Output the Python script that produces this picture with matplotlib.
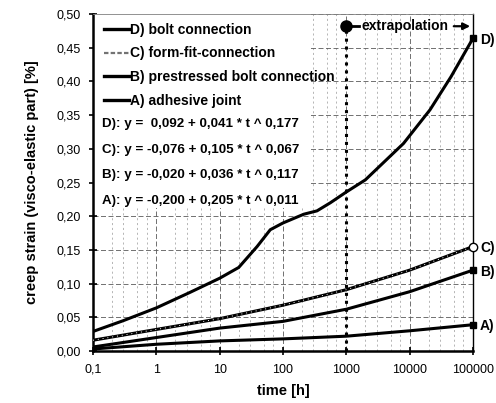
import matplotlib.pyplot as plt
import numpy as np
from matplotlib.lines import Line2D
from matplotlib.ticker import FixedLocator, NullFormatter

plt.rcParams['font.family'] = ['Liberation Sans', 'DejaVu Sans']

# time [h] and creep strain [%]
tD = [0.1, 0.3, 1, 3.4, 10, 20, 39, 63, 100, 213, 345, 560, 1000, 2000, 8000, 21000, 45000, 100000]
yD = [0.029, 0.045, 0.064, 0.087, 0.108, 0.124, 0.155, 0.180, 0.190, 0.203, 0.208, 0.220, 0.236, 0.254, 0.308, 0.358, 0.407, 0.464]

tC = [0.1, 1, 10, 100, 1000, 10000, 100000]
yC = [0.016, 0.032, 0.048, 0.068, 0.091, 0.120, 0.155]

tB = [0.1, 1, 10, 100, 1000, 10000, 100000]
yB = [0.006, 0.020, 0.034, 0.044, 0.062, 0.088, 0.120]

tA = [0.1, 1, 10, 100, 1000, 10000, 100000]
yA = [0.003, 0.010, 0.015, 0.018, 0.022, 0.030, 0.039]

legend_labels = ["D) bolt connection", "C) form-fit-connection",
                 "B) prestressed bolt connection", "A) adhesive joint"]
equations = ["D): y =  0,092 + 0,041 * t ^ 0,177",
             "C): y = -0,076 + 0,105 * t ^ 0,067",
             "B): y = -0,020 + 0,036 * t ^ 0,117",
             "A): y = -0,200 + 0,205 * t ^ 0,011"]
end_labels = ["D)", "C)", "B)", "A)"]

x_ticks = [0.1, 1, 10, 100, 1000, 10000, 100000]
x_ticklabels = ["0,1", "1", "10", "100", "1000", "10000", "100000"]
y_ticks = np.arange(0, 0.51, 0.05)
y_ticklabels = ["%.2f" % v for v in y_ticks]
y_ticklabels = [s.replace(".", ",") for s in y_ticklabels]

t_extra = 1000
y_extra = 0.482

fig = plt.figure(figsize=(4.96, 4.03), dpi=100)
ax = fig.add_axes([0.1875, 0.129, 0.766, 0.836])
ax.set_xscale("log")
ax.set_xlim(0.1, 100000)
ax.set_ylim(0, 0.5)

# grid
ax.set_xticks(x_ticks)
ax.set_xticklabels(x_ticklabels, fontsize=9)
ax.set_yticks(y_ticks)
ax.set_yticklabels(y_ticklabels, fontsize=9)
ax.xaxis.set_minor_locator(FixedLocator([m * 10.0 ** e for e in range(-1, 5) for m in (2, 3, 5, 7)]))
ax.xaxis.set_minor_formatter(NullFormatter())
ax.grid(which="major", color="0.35", linestyle=(0, (6, 3)), linewidth=0.6)
ax.grid(which="minor", axis="x", color="0.6", linestyle=(0, (3, 4)), linewidth=0.5)
ax.tick_params(which="major", direction="inout", length=6, width=1.2, pad=6)
ax.tick_params(which="minor", length=0)
for s in ["left", "bottom"]:
    ax.spines[s].set_linewidth(1.8)
ax.spines["right"].set_linewidth(1.0)
ax.spines["top"].set_linewidth(0.6)
ax.spines["top"].set_color("0.5")
ax.set_axisbelow(True)

# white box behind legend and equations
ax.add_patch(plt.Rectangle((0, 0.425), 0.572, 0.575, transform=ax.transAxes,
                           facecolor="white", edgecolor="none", zorder=1.5))

# curves
ax.plot(tD, yD, color="black", lw=2.2, zorder=3)
ax.plot(tC, yC, color="black", lw=2.2, zorder=3)
ax.plot(tC, yC, color="white", lw=0.7, linestyle=(0, (1, 4)), zorder=3.1)
ax.plot(tB, yB, color="black", lw=2.2, zorder=3)
ax.plot(tA, yA, color="black", lw=2.2, zorder=3)

# end markers and labels
ax.plot(tD[-1], yD[-1], "s", color="black", ms=5, zorder=4, clip_on=False)
ax.plot(tC[-1], yC[-1], "o", mfc="white", mec="black", ms=6, zorder=4, clip_on=False)
ax.plot(tB[-1], yB[-1], "s", color="black", ms=5, zorder=4, clip_on=False)
ax.plot(tA[-1], yA[-1], "s", color="black", ms=5, zorder=4, clip_on=False)
for lab, yv in zip(end_labels, [yD[-1], yC[-1], yB[-1], yA[-1]]):
    ax.annotate(lab, (100000, yv), xytext=(5, -1), textcoords="offset points",
                fontsize=10, fontweight="bold", va="center", ha="left", annotation_clip=False)

# extrapolation marker
ax.plot([t_extra, t_extra], [0, y_extra], color="black", lw=2.2, linestyle=(0, (1, 1.6)), zorder=3)
ax.plot(t_extra, y_extra, "o", color="black", ms=8, zorder=4)
ax.plot([t_extra, 1600], [y_extra, y_extra], color="black", lw=2, zorder=4)
ax.text(1750, y_extra, "extrapolation", fontsize=10, fontweight="bold", va="center", ha="left", zorder=4)
ax.annotate("", xy=(100000, y_extra), xytext=(45000, y_extra),
            arrowprops=dict(arrowstyle="-|>", color="black", lw=1.6, mutation_scale=10), zorder=4)

# legend
handles = [Line2D([], [], color="black", lw=2.4),
           Line2D([], [], color="0.45", lw=1.6, linestyle=(0, (2, 1))),
           Line2D([], [], color="black", lw=2.4),
           Line2D([], [], color="black", lw=2.4)]
leg = ax.legend(handles, legend_labels, loc="upper left", frameon=False,
                prop={"weight": "bold", "size": 10}, handlelength=1.8, handletextpad=0.05,
                labelspacing=0.7, borderaxespad=0.0, bbox_to_anchor=(0.015, 0.991))
leg.set_zorder(5)

# fitted equations
for i, eq in enumerate(equations):
    ax.text(0.025, 0.674 - i * 0.0765, eq, transform=ax.transAxes, fontsize=9.6,
            fontweight="bold", va="center", ha="left", zorder=5)

ax.set_xlabel("time [h]", fontsize=10.5, fontweight="bold", labelpad=6)
ax.set_ylabel("creep strain (visco-elastic part) [%]", fontsize=10.5, fontweight="bold", labelpad=12)

fig.savefig("out.png", dpi=100)
